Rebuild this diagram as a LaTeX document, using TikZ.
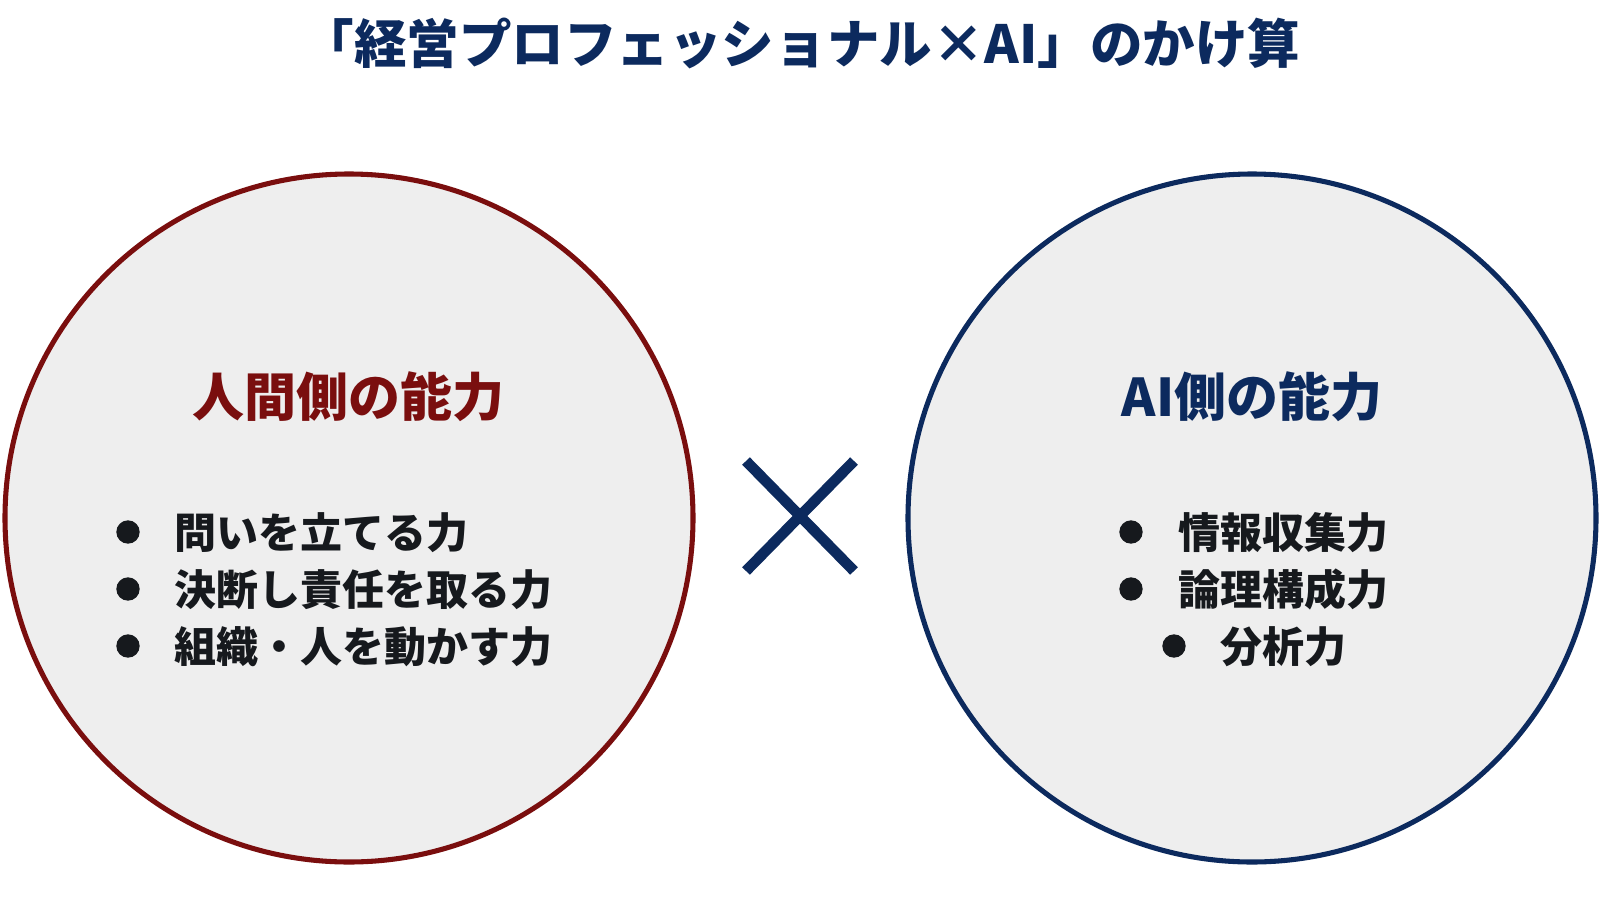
\documentclass[tikz,border=0pt]{standalone}
\usepackage{fontspec}
\setmainfont{Noto Sans CJK JP}
\definecolor{navy}{HTML}{0C2A5E}
\definecolor{darkred}{HTML}{7A0E0E}
\definecolor{circfill}{HTML}{EEEEEE}
\definecolor{bodytext}{HTML}{16191D}
\begin{document}
\begin{tikzpicture}[x=0.75pt,y=-0.75pt,
  titletext/.style={font=\fontsize{39.4}{45}\selectfont\bfseries, text=navy, inner sep=0pt},
  headtext/.style={font=\fontsize{39}{45}\selectfont\bfseries, inner sep=0pt},
  itemtext/.style={font=\fontsize{31.5}{36}\selectfont\bfseries, text=bodytext, inner sep=0pt, anchor=base west},
  bulletdot/.style={circle, fill=bodytext, minimum size=17.5pt, inner sep=0pt},
  bigcircle/.style={circle, fill=circfill, line width=3.8pt, minimum size={2*344*0.75pt}, inner sep=0pt},
  crossline/.style={draw=navy, line width=8pt}]
\useasboundingbox (0,0) rectangle (1600,900);
% title
\node[titletext, anchor=base] (title) at (801,63) {「経営プロフェッショナル×AI」のかけ算};
% circles
\node[bigcircle, draw=darkred] (human) at (349,518) {};
\node[bigcircle, draw=navy] (ai) at (1252,518) {};
% headings
\node[headtext, text=darkred, anchor=base] (hhead) at (348,416) {人間側の能力};
\node[headtext, text=navy, anchor=base] (ahead) at (1252,416) {AI側の能力};
% left items
\node[bulletdot] (hb1) at (128,532) {};
\node[itemtext] (hi1) at (174,548) {問いを立てる力};
\node[bulletdot] (hb2) at (128,589) {};
\node[itemtext] (hi2) at (174,605) {決断し責任を取る力};
\node[bulletdot] (hb3) at (128,646) {};
\node[itemtext] (hi3) at (174,662) {組織・人を動かす力};
% right items
\node[bulletdot] (ab1) at (1131,532) {};
\node[itemtext] (ai1) at (1178,548) {情報収集力};
\node[bulletdot] (ab2) at (1131,589) {};
\node[itemtext] (ai2) at (1178,605) {論理構成力};
\node[bulletdot] (ab3) at (1174,646) {};
\node[itemtext] (ai3) at (1220,662) {分析力};
% cross
\coordinate (c1) at (746,461);
\coordinate (c2) at (854,571);
\coordinate (c3) at (854,461);
\coordinate (c4) at (746,571);
\draw[crossline] (c1) -- (c2);
\draw[crossline] (c3) -- (c4);
\end{tikzpicture}
\end{document}
